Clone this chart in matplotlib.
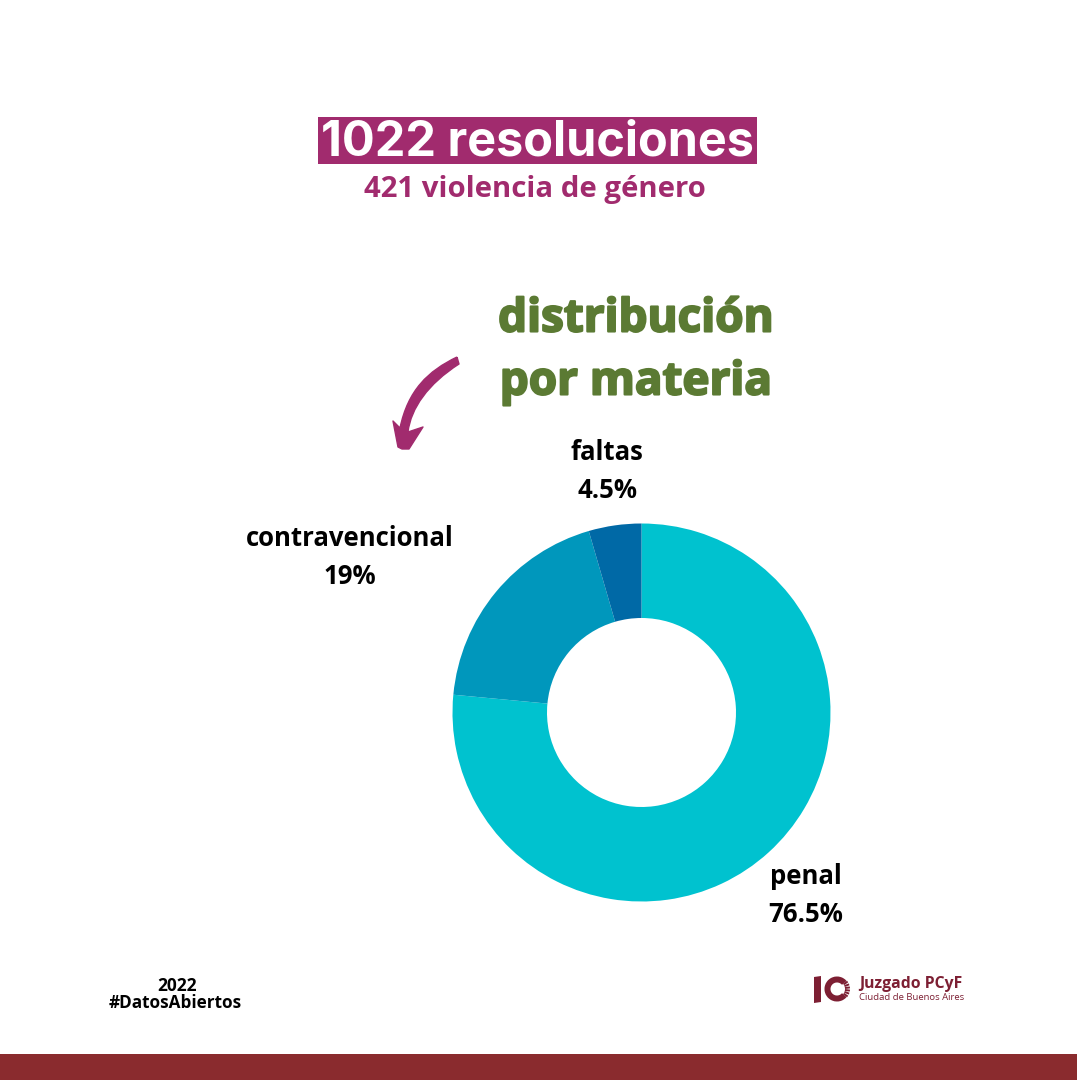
import matplotlib
matplotlib.use('Agg')
import matplotlib.pyplot as plt
import matplotlib.patheffects as pe
from matplotlib.patches import Rectangle, Polygon, Wedge, PathPatch
from matplotlib.path import Path
import numpy as np

# datos
materias = ['penal', 'contravencional', 'faltas']
porcentajes = [76.5, 19, 4.5]
etiquetas = ['76.5%', '19%', '4.5%']
colores = ['#00C2CF', '#0097BC', '#0069A6']

VINO = '#A12B6E'
VERDE = '#5B7A33'
BORDO = '#8A2B2E'
LOGO = '#7D1F33'

plt.rcParams['font.family'] = ['Open Sans', 'DejaVu Sans']

fig = plt.figure(figsize=(10.8, 10.8), dpi=100, facecolor='white')

# capa en pixeles para textos y adornos
bg = fig.add_axes([0, 0, 1, 1])
bg.set_xlim(0, 1080)
bg.set_ylim(1080, 0)
bg.axis('off')

# torta
cx, cy, r = 641.5, 712.5, 189
ax = fig.add_axes([(cx - r) / 1080, 1 - (cy + r) / 1080, 2 * r / 1080, 2 * r / 1080])
ax.pie(porcentajes, colors=colores, startangle=90, counterclock=False, radius=1,
       wedgeprops={'width': 0.5, 'linewidth': 0})
ax.set_xlim(-1, 1)
ax.set_ylim(-1, 1)

# titulo
bg.add_patch(Rectangle((318, 117), 439, 47, color=VINO, lw=0))
bg.text(537.5, 142, '1022 resoluciones', color='white', fontsize=35, fontweight='bold',
        family=['Inter', 'DejaVu Sans'], ha='center', va='center')
bg.text(534.5, 190, '421 violencia de género', color=VINO, fontsize=21.2, fontweight='bold',
        ha='center', va='center')

grueso = [pe.withStroke(linewidth=1.5, foreground=VERDE)]
bg.text(636, 319, 'distribución', color=VERDE, fontsize=33, fontweight='bold',
        ha='center', va='center', path_effects=grueso)
bg.text(636, 382, 'por materia', color=VERDE, fontsize=33, fontweight='bold',
        ha='center', va='center', path_effects=grueso)

# flecha
M, L, C = Path.MOVETO, Path.LINETO, Path.CURVE4
flecha = Path([(457, 357), (428, 371), (408, 390), (400, 428),
               (393, 421), (398, 447), (402, 449), (409, 449), (423, 427), (408, 432),
               (411, 408), (428, 384), (459, 364), (457, 357)],
              [M, C, C, C, L, L, L, L, L, L, C, C, C, L])
bg.add_patch(PathPatch(flecha, facecolor=VINO, edgecolor=VINO, lw=1, joinstyle='round'))

# etiquetas de la torta
pos = {'penal': (806, 877, 914), 'contravencional': (349.5, 539, 577), 'faltas': (607, 453, 491)}
for nombre, valor in zip(materias, etiquetas):
    x, y1, y2 = pos[nombre]
    bg.text(x, y1, nombre, color='black', fontsize=18.5, fontweight='bold', ha='center', va='center')
    bg.text(x, y2, valor, color='black', fontsize=18.5, fontweight='bold', ha='center', va='center')

# pie
bg.text(177.5, 986, '2022', color='black', fontsize=12.5, fontweight='bold', ha='center', va='center')
bg.text(175, 1003, '#DatosAbiertos', color='black', fontsize=12.3, fontweight='bold',
        ha='center', va='center')

# logo
bg.add_patch(Polygon([(814, 977), (821, 976), (821, 1002), (814, 1003)], closed=True,
                     facecolor=LOGO, lw=0))
bg.add_patch(Wedge((837, 989), 12.5, 40, 320, width=6, facecolor=LOGO, lw=0))
for ang in np.arange(-35, 40, 14):
    a = np.deg2rad(ang)
    bg.plot([837 + 8 * np.cos(a), 837 + 13 * np.cos(a)], [989 + 8 * np.sin(a), 989 + 13 * np.sin(a)],
            color=LOGO, lw=1.4, solid_capstyle='butt')
bg.text(859, 984, 'Juzgado PCyF', color=LOGO, fontsize=11.3, fontweight='bold', ha='left', va='center')
bg.text(859, 998, 'Ciudad de Buenos Aires', color=LOGO, fontsize=6.8, ha='left', va='center')

# franja inferior
bg.add_patch(Rectangle((0, 1054), 1077, 26, color=BORDO, lw=0))

fig.savefig('out.png', dpi=100, facecolor='white')
